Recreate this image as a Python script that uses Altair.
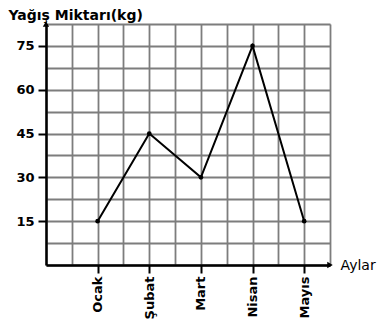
import json
import altair as alt
import pandas as pd

months = ["Ocak", "Şubat", "Mart", "Nisan", "Mayıs"]
values = [15, 45, 30, 75, 15]
y_ticks = [15, 30, 45, 60, 75]
y_grid = [i * 7.5 for i in range(12)]
x_grid = [i * 0.5 for i in range(12)]
x_max = 5.5
y_max = 82.5

df = pd.DataFrame({"m": list(range(1, len(months) + 1)), "v": values, "name": months})
arrows = pd.DataFrame({"x": [0, x_max], "y": [y_max, 0], "shape": ["triangle-up", "triangle-right"]})

FONT = "DejaVu Sans"
xs = alt.Scale(domain=[0, x_max], nice=False, zero=False)
ys = alt.Scale(domain=[0, y_max], nice=False)

grid_layer = alt.Chart(df).mark_line(color="black", strokeWidth=2).encode(
    x=alt.X("m:Q", scale=xs, axis=alt.Axis(values=x_grid, grid=True, labels=False, ticks=False,
                                            domain=False, title=None, orient="bottom",
                                            gridColor="#7d7d7d", gridWidth=1.8, gridOpacity=1)),
    y=alt.Y("v:Q", scale=ys, axis=alt.Axis(values=y_grid, grid=True, labels=False, ticks=False,
                                            domain=False, title=None, orient="left",
                                            gridColor="#7d7d7d", gridWidth=1.8, gridOpacity=1)),
)

label_expr = json.dumps(months) + "[datum.value - 1]"

point_layer = alt.Chart(df).mark_point(filled=True, color="black", size=22, opacity=1).encode(
    x=alt.X("m:Q", scale=xs, axis=alt.Axis(values=list(range(1, len(months) + 1)), grid=False,
                                            labelExpr=label_expr, labelAngle=-90, labelAlign="right",
                                            labelBaseline="middle", labelFont=FONT, labelFontSize=13,
                                            labelFontWeight="bold", labelColor="black", labelPadding=3,
                                            ticks=True, tickSize=8, tickWidth=2, tickColor="black",
                                            domain=True, domainColor="black", domainWidth=2.5,
                                            orient="bottom", title="Aylar", titleX=294, titleY=0,
                                            titleAlign="left", titleBaseline="middle", titleFont=FONT,
                                            titleFontSize=14, titleFontWeight="normal", titleColor="black",
                                            titleAngle=0)),
    y=alt.Y("v:Q", scale=ys, axis=alt.Axis(values=y_ticks, grid=False, labelFont=FONT, labelFontSize=13,
                                            labelFontWeight="bold", labelColor="black", labelPadding=4,
                                            ticks=True, tickSize=8, tickWidth=2, tickColor="black",
                                            domain=True, domainColor="black", domainWidth=2.5,
                                            orient="left", title="Yağış Miktarı(kg)", titleAngle=0,
                                            titleX=-38, titleY=-9, titleAlign="left",
                                            titleBaseline="middle", titleFont=FONT, titleFontSize=14,
                                            titleFontWeight="bold", titleColor="black")),
)

arrow_layer = alt.Chart(arrows).mark_point(filled=True, color="black", size=40, opacity=1).encode(
    x=alt.X("x:Q", scale=xs, axis=None),
    y=alt.Y("y:Q", scale=ys, axis=None),
    shape=alt.Shape("shape:N", scale=None),
)

chart = (
    alt.layer(grid_layer, point_layer, arrow_layer)
    .resolve_axis(x="independent", y="independent")
    .properties(width=284, height=241,
                autosize=alt.AutoSizeParams(type="none"),
                padding={"left": 38, "top": 16, "right": 48, "bottom": 56})
    .configure_view(stroke=None)
    .configure(background="white")
)

chart.save("out.html", embed_options={"renderer": "svg", "actions": False})
